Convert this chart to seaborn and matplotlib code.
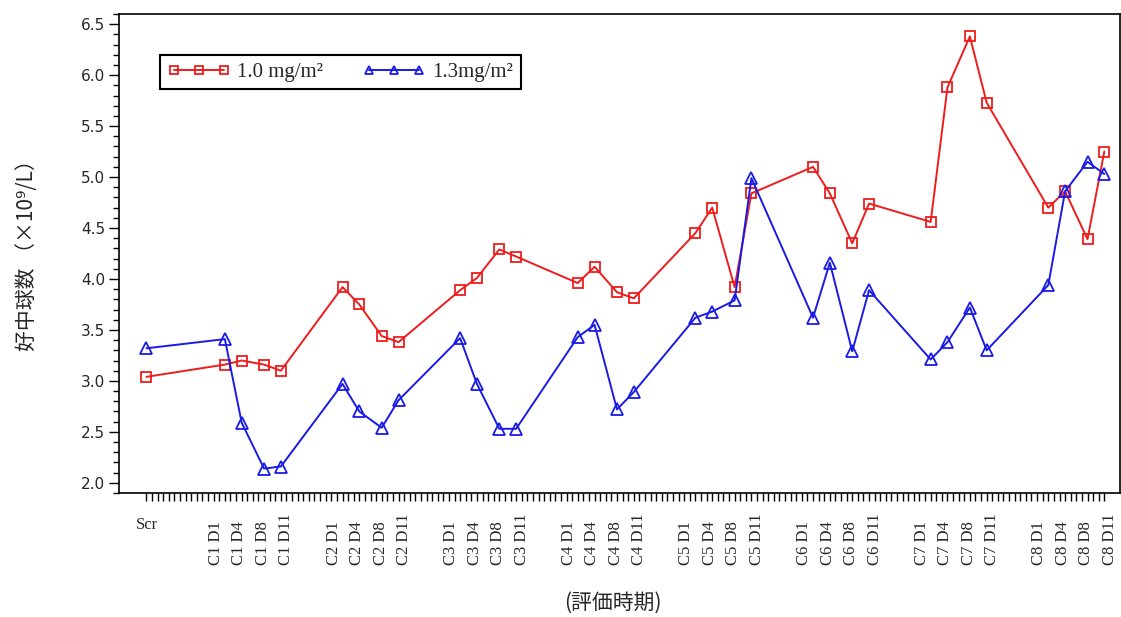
import numpy as np
import pandas as pd
import matplotlib
matplotlib.use('Agg')
import matplotlib.pyplot as plt
from matplotlib.ticker import MultipleLocator, FormatStrFormatter
import seaborn as sns

# evaluation points: screening + cycles C1..C8, days 1/4/8/11 of each 21-day cycle
cycles = [1, 2, 3, 4, 5, 6, 7, 8]
days = [1, 4, 8, 11]
point_labels = ['Scr'] + [f'C{c} D{d}' for c in cycles for d in days]
x_days = [-13] + [21 * (c - 1) + d for c in cycles for d in days]

dose_10 = [3.04,
           3.16, 3.20, 3.16, 3.10,
           3.92, 3.75, 3.44, 3.38,
           3.89, 4.01, 4.29, 4.22,
           3.96, 4.12, 3.87, 3.81,
           4.45, 4.70, 3.92, 4.84,
           5.10, 4.84, 4.35, 4.74,
           4.56, 5.88, 6.38, 5.73,
           4.70, 4.86, 4.39, 5.25]
dose_13 = [3.32,
           3.41, 2.59, 2.14, 2.16,
           2.97, 2.70, 2.54, 2.81,
           3.42, 2.97, 2.53, 2.53,
           3.43, 3.55, 2.72, 2.89,
           3.62, 3.68, 3.79, 4.99,
           3.62, 4.16, 3.29, 3.89,
           3.21, 3.38, 3.72, 3.30,
           3.94, 4.86, 5.15, 5.03]

series_names = ['1.0 mg/m\u00b2', '1.3mg/m\u00b2']

df = pd.DataFrame({'day': x_days * 2,
                   'value': dose_10 + dose_13,
                   'group': [series_names[0]] * len(x_days) + [series_names[1]] * len(x_days)})

sns.set_theme(style="white")
plt.rcParams['font.family'] = ['Liberation Serif', 'DejaVu Serif']
cjk = ['Noto Sans CJK JP', 'DejaVu Sans']

fig = plt.figure(figsize=(11.21, 6.17), dpi=100)
ax = fig.add_axes([119 / 1121, 1 - 493 / 617, 1001 / 1121, 479 / 617])

styles = {series_names[0]: ('#ee1c1c', 's', 7.5),
          series_names[1]: ('#1a1ae6', '^', 8)}
for name, (col, mk, ms) in styles.items():
    sub = df[df['group'] == name]
    sns.lineplot(data=sub, x='day', y='value', ax=ax, color=col, marker=mk,
                 markersize=ms, markerfacecolor='none', markeredgecolor=col,
                 markeredgewidth=1.3, linewidth=1.4, label=name)

ax.set_xlim(-17.9, 160.8)
ax.set_ylim(1.9, 6.6)

# y axis
ax.yaxis.set_major_locator(MultipleLocator(0.5))
ax.yaxis.set_minor_locator(MultipleLocator(0.1))
ax.yaxis.set_major_formatter(FormatStrFormatter('%.1f'))
ax.tick_params(axis='y', which='major', direction='out', length=7, width=1,
               color='black', left=True, labelsize=11, pad=3)
ax.tick_params(axis='y', which='minor', direction='out', length=4, width=1,
               color='black', left=True)
for t in ax.get_yticklabels():
    t.set_family(['DejaVu Sans'])

# x axis: one small tick per day, labels written as text
ax.set_xticks(range(-13, 159))
ax.set_xticklabels([])
ax.tick_params(axis='x', which='major', direction='out', length=6, width=1,
               color='black', bottom=True)

trans = ax.get_xaxis_transform()
label_offsets = [-0.6, 3.6, 7.8, 12.0]
ax.text(x_days[0], -0.066, point_labels[0], transform=trans, ha='center',
        va='center', fontsize=12)
for i, c in enumerate(cycles):
    for j, d in enumerate(days):
        ax.text(21 * (c - 1) + label_offsets[j], -0.150,
                point_labels[1 + i * 4 + j], transform=trans,
                rotation=90, ha='center', va='bottom', fontsize=12)

for s in ax.spines.values():
    s.set_visible(True)
    s.set_color('black')
    s.set_linewidth(1.2)

ax.set_xlabel('')
ax.set_ylabel('')
fig.text(613 / 1121, 1 - 603 / 617, '(評価時期)', ha='center', va='center',
         fontsize=15, family=cjk)
fig.text(27 / 1121, 1 - 250 / 617, '好中球数 （×10\u2079/L）', ha='center',
         va='center', rotation=90, fontsize=15, family=cjk)

leg = ax.legend(loc='upper left', bbox_to_anchor=(0.041, 0.914),
                borderaxespad=0, ncol=2, numpoints=3, fancybox=False,
                framealpha=1, edgecolor='black', fontsize=15,
                handlelength=3.0, columnspacing=1.9, handletextpad=0.35,
                borderpad=0.35)
leg.get_frame().set_linewidth(1.5)
for h in leg.legend_handles:
    h.set_markersize(6)

fig.savefig('out.png', dpi=100)
plt.close(fig)
